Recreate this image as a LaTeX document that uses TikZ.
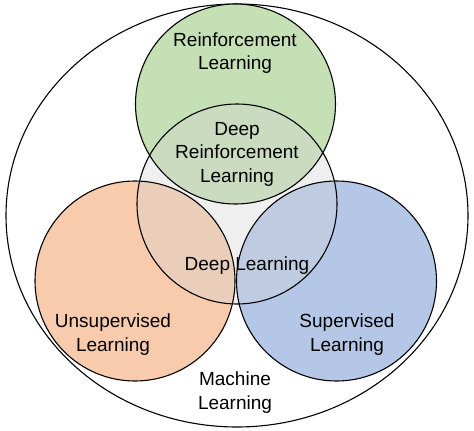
\documentclass[tikz,border=0pt]{standalone}
\usepackage{fontspec}
\setmainfont{Liberation Sans}
\usetikzlibrary{shapes.geometric}
\definecolor{rlgreen}{HTML}{C5E0B4}
\definecolor{ulorange}{HTML}{F8CBAD}
\definecolor{slblue}{HTML}{B4C7E7}
\definecolor{dlgray}{HTML}{D4D4D4}
\tikzset{
  setcirc/.style={circle, minimum size=200pt, inner sep=0pt, line width=1.1pt},
  label/.style={align=center, font=\fontsize{19}{23.5}\selectfont, inner sep=0pt},
}
\begin{document}
\begin{tikzpicture}[x=1pt,y=-1pt]
\useasboundingbox (0,0) rectangle (474,431);
\fill[white] (0,0) rectangle (474,431);
\node[ellipse, draw, line width=1.1pt, minimum width=462pt, minimum height=423pt, inner sep=0pt] (ml) at (237,215.5) {};
\node[setcirc, fill=rlgreen] (rl) at (235.5,104) {};
\node[setcirc, fill=ulorange] (ul) at (135,281) {};
\node[setcirc, fill=slblue] (sl) at (336.5,281) {};
\node[setcirc, fill=dlgray, fill opacity=0.35] (dl) at (237,204) {};
\node[setcirc, draw] at (rl) {};
\node[setcirc, draw] at (ul) {};
\node[setcirc, draw] at (sl) {};
\node[setcirc, draw] at (dl) {};
\node[label] (rlt) at (235,53) {Reinforcement\\Learning};
\node[label] (drlt) at (237,154) {Deep\\Reinforcement\\Learning};
\node[label] (dlt) at (247,266) {Deep Learning};
\node[label] (ult) at (113,334.5) {Unsupervised\\Learning};
\node[label] (slt) at (347,334.5) {Supervised\\Learning};
\node[label] (mlt) at (235,392.5) {Machine\\Learning};
\end{tikzpicture}
\end{document}
